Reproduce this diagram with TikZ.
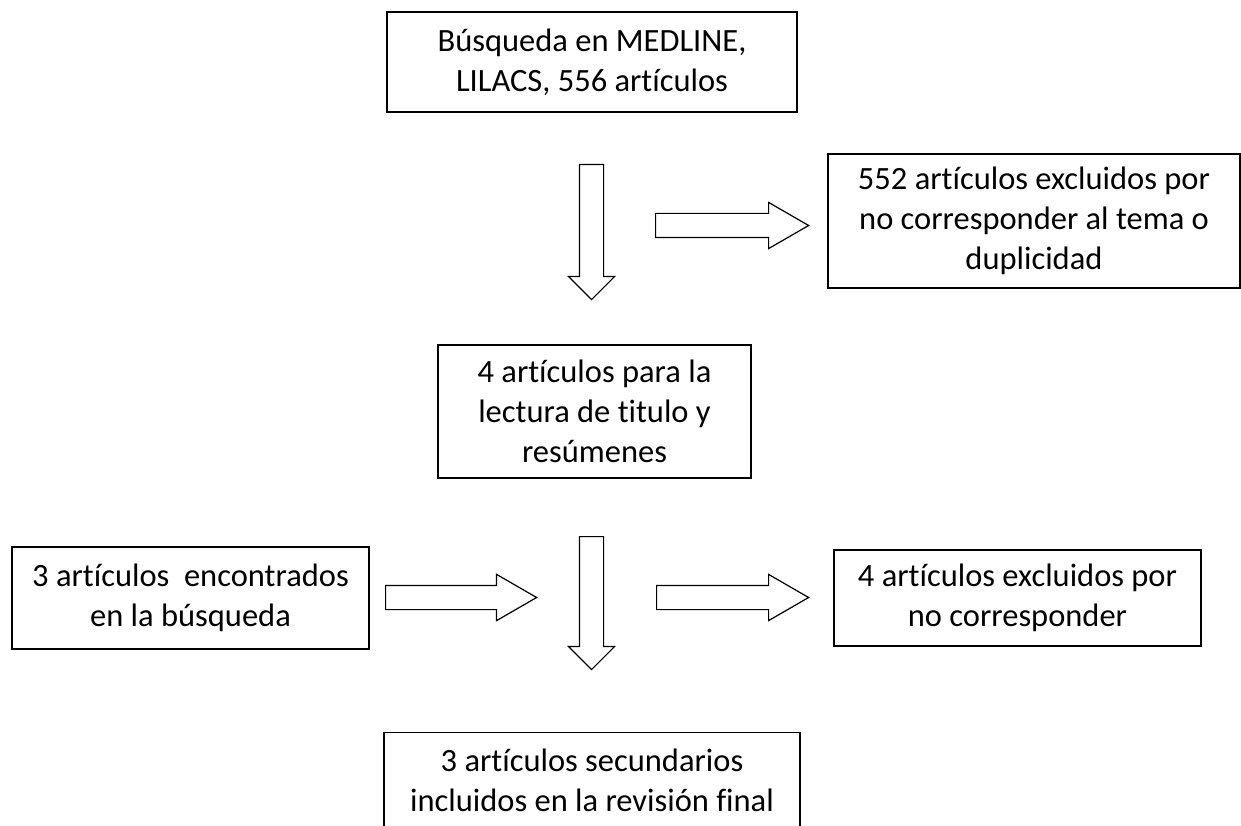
\documentclass[tikz,border=0pt]{standalone}
\usepackage{fontspec}
\setmainfont[Ligatures=NoCommon]{Carlito}
\usetikzlibrary{shapes.arrows}

\tikzset{
  caja/.style={draw, line width=1.2pt, align=center, inner sep=0pt,
    font=\fontsize{32.5}{40}\selectfont},
  flecha/.style={single arrow, draw, line width=1.2pt, inner sep=11.5pt, anchor=tail,
    single arrow head extend=11pt, single arrow tip angle=60},
  flechabajo/.style={flecha, single arrow tip angle=90, shape border rotate=270}
}

\begin{document}
\begin{tikzpicture}[x=1pt,y=-1pt]
  \useasboundingbox (0,0) rectangle (1241,826);
  % cajas
  \node[caja, minimum width=410pt, minimum height=100pt] (busqueda) at (592,62)
    {Búsqueda en MEDLINE,\\LILACS, 556 artículos};
  \node[caja, minimum width=412pt, minimum height=134pt] (excluidos1) at (1034,221)
    {552 artículos excluidos por\\no corresponder al tema o\\duplicidad};
  \node[caja, minimum width=313pt, minimum height=133pt] (lectura) at (594.5,411.5)
    {4 artículos para la\\lectura de titulo y\\resúmenes};
  \node[caja, minimum width=357pt, minimum height=102pt] (encontrados) at (190.5,598)
    {3 artículos~ encontrados\\en la búsqueda};
  \node[caja, minimum width=367pt, minimum height=96pt] (excluidos2) at (1017.5,598)
    {4 artículos excluidos por\\no corresponder};
  \node[caja, minimum width=416pt, inner ysep=16pt, anchor=north] (final) at (592,732)
    {3 artículos secundarios\\incluidos en la revisión final};
  % flechas (ancladas por la cola)
  \node[flechabajo, minimum height=135pt] (f1) at (591.5,164) {};
  \node[flecha, minimum height=153pt] (f2) at (655,225.5) {};
  \node[flechabajo, minimum height=133pt] (f3) at (591.5,536) {};
  \node[flecha, minimum height=151pt] (f4) at (385,597.5) {};
  \node[flecha, minimum height=152pt] (f5) at (656,597.5) {};
\end{tikzpicture}
\end{document}
